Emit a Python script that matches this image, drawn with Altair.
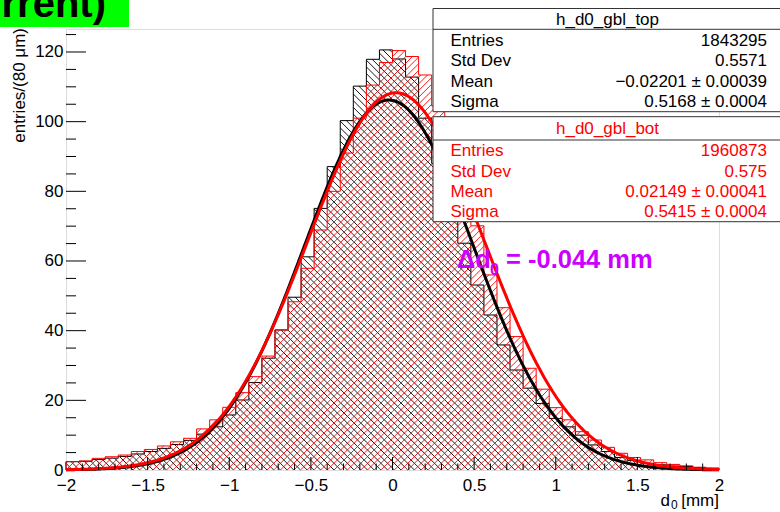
import math
import numpy as np
import pandas as pd
import altair as alt

# ---------------- data ----------------
bin_lo = -2.0
bin_width = 0.08          # 80 um bins, 50 bins from -2 to 2 mm
n_bins = 50

top_counts = [2.4, 2.5, 3.0, 3.4, 3.9, 4.6, 5.3, 6.2, 7.3, 8.5,
              10.3, 12.4, 15.8, 20.1, 25.1, 32.1, 40.2, 49.6, 61.2, 75.1,
              87.1, 100.3, 110.2, 117.9, 120.6, 118.0, 112.8, 101.0, 88.0, 76.0,
              65.1, 53.1, 44.5, 35.9, 28.7, 23.5, 19.1, 14.8, 12.4, 10.0,
              7.2, 5.3, 3.6, 2.7, 1.9, 1.5, 1.15, 1.0, 0.7, 0.4]

bot_counts = [2.4, 2.6, 3.35, 3.8, 4.3, 5.3, 5.9, 6.9, 8.1, 9.1,
              11.8, 14.4, 18.0, 22.2, 26.8, 32.7, 40.2, 48.3, 57.9, 68.9,
              80.0, 91.0, 101.0, 110.5, 117.0, 120.4, 118.7, 113.4, 104.5, 92.0,
              80.0, 70.1, 56.0, 46.6, 38.3, 29.2, 23.2, 17.9, 14.4, 11.0,
              8.6, 6.5, 4.8, 3.6, 2.9, 2.1, 1.6, 1.2, 0.8, 0.6]

# gaussian fit parameters (mean / sigma from the stat boxes, amplitude)
top_fit_amp, top_fit_mean, top_fit_sigma = 106.2, -0.02201, 0.5168
bot_fit_amp, bot_fit_mean, bot_fit_sigma = 108.3, 0.02149, 0.5415

stat_labels = ["Entries", "Std Dev", "Mean", "Sigma"]
top_stats = ["1843295", "0.5571", "\u22120.02201 \u00b1 0.00039", "0.5168 \u00b1 0.0004"]
bot_stats = ["1960873", "0.575", "0.02149 \u00b1 0.00041", "0.5415 \u00b1 0.0004"]
top_name = "h_d0_gbl_top"
bot_name = "h_d0_gbl_bot"

x_major = [-2, -1.5, -1, -0.5, 0, 0.5, 1, 1.5, 2]
y_major = [0, 20, 40, 60, 80, 100, 120]

# ---------------- layout ----------------
W, H = 653, 441
PL, PT, PR, PB = 66, 29, 61, 42
YMAX = 126.6
FONT = "Liberation Sans"
RED = "#ff0000"
MAG = "#cc00ff"

xsc = alt.Scale(domain=[-2, 2], nice=False, zero=False)
ysc = alt.Scale(domain=[0, YMAX], nice=False, zero=False)

edges = [bin_lo + bin_width * i for i in range(n_bins + 1)]


def hatch_segments(vals, kind, spacing=6.7):
    """45-degree hatch lines (ROOT fill styles 3004/3005) clipped to the histogram bins."""
    kx = W / (edges[-1] - edges[0])
    ky = H / YMAX
    rows = []
    for i, v in enumerate(vals):
        X0 = (edges[i] - edges[0]) * kx
        X1 = (edges[i + 1] - edges[0]) * kx
        Hb = v * ky
        if kind == "\\":
            for k in range(math.ceil(X0 / spacing), math.floor((X1 + Hb) / spacing) + 1):
                c = k * spacing
                xa, xb = max(X0, c - Hb), min(X1, c)
                if xb - xa > 0.05:
                    rows.append((xa, c - xa, xb, c - xb))
        else:
            for k in range(math.ceil(-X1 / spacing), math.floor((Hb - X0) / spacing) + 1):
                c = k * spacing
                xa, xb = max(X0, -c), min(X1, Hb - c)
                if xb - xa > 0.05:
                    rows.append((xa, xa + c, xb, xb + c))
    df = pd.DataFrame(rows, columns=["xa", "ya", "xb", "yb"])
    return pd.DataFrame({"x": edges[0] + df.xa / kx, "y": df.ya / ky,
                         "x2": edges[0] + df.xb / kx, "y2": df.yb / ky})


def outline_df(vals):
    xx = [edges[0]] + edges + [edges[-1]]
    yy = [0.0] + vals + [vals[-1]] + [0.0]
    return pd.DataFrame({"x": xx, "y": yy, "i": list(range(len(xx)))})


def fit_df(amp, mean, sigma):
    xx = np.linspace(-2, 2, 401)
    return pd.DataFrame({"x": xx, "y": amp * np.exp(-0.5 * ((xx - mean) / sigma) ** 2)})


x_axis = alt.Axis(values=x_major, format="~g", ticks=False, tickSize=0, domain=False, grid=False,
                  labelFont=FONT, labelFontSize=17, labelColor="black", labelPadding=20,
                  labelBaseline="alphabetic", title=None, labelFlush=False)
y_axis = alt.Axis(values=y_major, format="d", ticks=False, tickSize=0, domain=False, grid=False,
                  labelFont=FONT, labelFontSize=17, labelColor="black", labelPadding=3,
                  title=None)


def X(field):
    return alt.X(field, scale=xsc, axis=x_axis)


def Y(field):
    return alt.Y(field, scale=ysc, axis=y_axis)


layers = []

# hatched histograms: black top (\\\), red bottom (///)
layers.append(alt.Chart(hatch_segments(top_counts, "\\")).mark_rule(color="black", strokeWidth=0.9).encode(
    x=X("x:Q"), y=Y("y:Q"), x2="x2:Q", y2="y2:Q"))
layers.append(alt.Chart(outline_df(top_counts)).mark_line(
    interpolate="step-after", color="black", strokeWidth=1
).encode(x=X("x:Q"), y=Y("y:Q"), order=alt.Order("i:Q")))

layers.append(alt.Chart(hatch_segments(bot_counts, "/")).mark_rule(color=RED, strokeWidth=0.9).encode(
    x=X("x:Q"), y=Y("y:Q"), x2="x2:Q", y2="y2:Q"))
layers.append(alt.Chart(outline_df(bot_counts)).mark_line(
    interpolate="step-after", color=RED, strokeWidth=1
).encode(x=X("x:Q"), y=Y("y:Q"), order=alt.Order("i:Q")))

# gaussian fits
layers.append(alt.Chart(fit_df(top_fit_amp, top_fit_mean, top_fit_sigma)).mark_line(
    color="black", strokeWidth=3
).encode(x=X("x:Q"), y=Y("y:Q")))
layers.append(alt.Chart(fit_df(bot_fit_amp, bot_fit_mean, bot_fit_sigma)).mark_line(
    color=RED, strokeWidth=3
).encode(x=X("x:Q"), y=Y("y:Q")))

# inward ticks
x_minor = [round(-2 + 0.1 * i, 2) for i in range(41)]
x_minor = [v for v in x_minor if v not in x_major]
y_minor = [v for v in range(5, 130, 5) if v not in y_major]
layers.append(alt.Chart(pd.DataFrame({"x": x_major[1:-1]})).mark_rule(color="black", strokeWidth=1).encode(
    x=X("x:Q"), y=alt.value(H), y2=alt.value(H - 13)))
layers.append(alt.Chart(pd.DataFrame({"x": x_minor})).mark_rule(color="black", strokeWidth=1).encode(
    x=X("x:Q"), y=alt.value(H), y2=alt.value(H - 6.5)))
layers.append(alt.Chart(pd.DataFrame({"y": y_major[1:]})).mark_rule(color="black", strokeWidth=1).encode(
    y=Y("y:Q"), x=alt.value(0), x2=alt.value(20)))
layers.append(alt.Chart(pd.DataFrame({"y": y_minor})).mark_rule(color="black", strokeWidth=1).encode(
    y=Y("y:Q"), x=alt.value(0), x2=alt.value(10)))

one = pd.DataFrame({"k": [0]})


def box(x1, y1, x2, y2, fill="white", stroke="#333333", sw=1):
    if stroke:
        m = alt.Chart(one).mark_rect(fill=fill, stroke=stroke, strokeWidth=sw, opacity=1)
    else:
        m = alt.Chart(one).mark_rect(fill=fill, strokeWidth=0, opacity=1)
    return m.encode(x=alt.value(x1), x2=alt.value(x2), y=alt.value(y1), y2=alt.value(y2))


def hline(x1, x2, y, color="#333333"):
    return alt.Chart(one).mark_rule(color=color, strokeWidth=1).encode(
        x=alt.value(x1), x2=alt.value(x2), y=alt.value(y))


def txt(s, x, y, size=17, color="black", align="left", weight="normal", angle=0):
    return alt.Chart(one).mark_text(text=s, font=FONT, fontSize=size, color=color, align=align,
                                    baseline="alphabetic", fontWeight=weight, angle=angle).encode(
        x=alt.value(x), y=alt.value(y))


# stat boxes (page coords converted to plot coords)
def stat_box(top, sep, bottom, name, values, color):
    out = [box(433 - PL, top - PT, 782 - PL, bottom - PT), hline(433 - PL, 782 - PL, sep - PT)]
    out.append(txt(name, 607.5 - PL, (top + sep) / 2 + 6 - PT, color=color, align="center"))
    row_h = (bottom - sep) / 4.0
    for i, (lab, val) in enumerate(zip(stat_labels, values)):
        yb = sep + row_h * (i + 0.5) + 6 - PT
        out.append(txt(lab, 450.5 - PL, yb, color=color))
        out.append(txt(val, 767 - PL, yb, color=color, align="right"))
    return out


layers += stat_box(8.5, 29.3, 111.7, top_name, top_stats, "black")
layers += stat_box(116.7, 140.0, 221.7, bot_name, bot_stats, RED)

# delta d0 annotation
layers.append(txt("\u0394d", 457 - PL, 268 - PT, size=25.5, color=MAG, weight="bold"))
layers.append(txt("0", 490 - PL, 275 - PT, size=16, color=MAG, weight="bold"))
layers.append(txt("= -0.044 mm", 506 - PL, 268 - PT, size=25.5, color=MAG, weight="bold"))

# axis titles
layers.append(txt("entries/(80 \u03bcm)", 25 - PL, 28 - PT, size=17, align="right", angle=270))
layers.append(txt("d", 660.5 - PL, 506 - PT, size=17))
layers.append(txt("0", 671 - PL, 509 - PT, size=12))
layers.append(txt("[mm]", 719 - PL, 506 - PT, size=17, align="right"))

# green title remnant at top-left
layers.append(box(0 - PL, 0 - PT, 129 - PL, 27 - PT, fill="#00ff00", stroke=None))
layers.append(txt("(current)", 106 - PL, 17 - PT, size=40, weight="bold", align="right"))

chart = alt.layer(*layers).properties(
    width=W, height=H,
    autosize=alt.AutoSizeParams(type="none"),
    padding={"left": PL, "top": PT, "right": PR, "bottom": PB},
).configure_view(stroke="black", strokeWidth=1).configure(background="white")

chart.save("out.html", embed_options={"renderer": "svg", "actions": False})
